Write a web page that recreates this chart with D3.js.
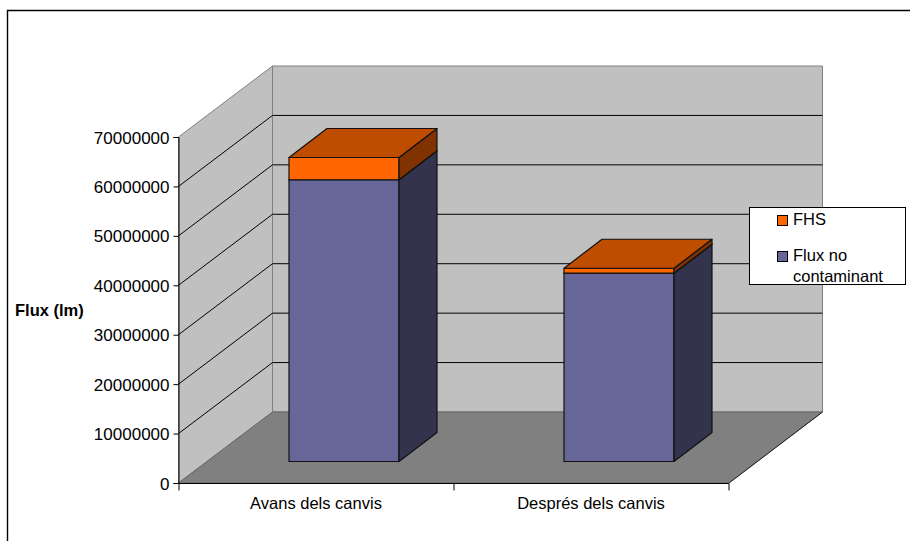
<!DOCTYPE html>
<html>
<head>
<meta charset="utf-8">
<script src="https://cdn.jsdelivr.net/npm/d3@7"></script>
<style>
html, body { margin: 0; padding: 0; background: #fff; }
svg { display: block; }
text { font-family: "Liberation Sans", Arial, sans-serif; fill: #000; }
</style>
</head>
<body>
<div id="chart"></div>
<script>
var categories = ["Avans dels canvis", "Després dels canvis"];
var fluxNoContaminant = [57000000, 38100000];
var fhs = [4500000, 1000000];
var yTicks = [0, 10000000, 20000000, 30000000, 40000000, 50000000, 60000000, 70000000];
var legendNames = ["FHS", "Flux no contaminant"];

var width = 910, height = 541;
var x0 = 178.5, x1 = 728.5;   // front of the floor
var y0 = 483, y1 = 137;       // front of the wall
var dx = 94, dy = -71;        // depth of the box
var barDx = 38, barDy = -29;  // depth of a bar
var barLift = -21.5;          // bars stand a bit behind the front edge
var barShift = 28;            // and to the right of the tick centre

var svg = d3.select("#chart").append("svg")
    .attr("width", width)
    .attr("height", height);

var xScale = d3.scaleBand().domain(categories).range([x0, x1]).paddingInner(0).paddingOuter(0);
var yScale = d3.scaleLinear().domain([0, 70000000]).range([y0, y1]);
var barW = 110;

function poly(points, fill, stroke, sw) {
  return svg.append("polygon")
    .attr("points", points.map(function(p) { return p.join(","); }).join(" "))
    .attr("fill", fill)
    .attr("stroke", stroke)
    .attr("stroke-width", sw)
    .attr("stroke-linejoin", "round");
}

// outer frame, only top and left are in the picture
svg.append("path")
  .attr("d", "M7.5,541V10.5H910")
  .attr("fill", "none").attr("stroke", "#000").attr("stroke-width", 1.4);

// side wall, back wall, floor
poly([[x0, y0], [x0 + dx, y0 + dy], [x0 + dx, y1 + dy], [x0, y1]], "#c0c0c0", "#808080", 1);
poly([[x0 + dx, y0 + dy], [x1 + dx + 0, y0 + dy], [x1 + dx, y1 + dy], [x0 + dx, y1 + dy]], "#c0c0c0", "#808080", 1);
poly([[x0, y0], [x1, y0], [x1 + dx, y0 + dy], [x0 + dx, y0 + dy]], "#808080", "#666", 1);

// gridlines
yTicks.slice(1, -1).forEach(function(t) {
  var y = yScale(t);
  svg.append("path")
    .attr("d", d3.line()([[x0, y], [x0 + dx, y + dy], [x1 + dx, y + dy]]))
    .attr("fill", "none").attr("stroke", "#000").attr("stroke-width", 1);
});

// floor front and right edges
svg.append("path")
  .attr("d", d3.line()([[x0, y0 + 0.5], [x1, y0 + 0.5], [x1 + dx, y0 + dy]]))
  .attr("fill", "none").attr("stroke", "#222").attr("stroke-width", 1);

// axes
var yAxis = d3.axisLeft(yScale).tickValues(yTicks).tickFormat(d3.format("d")).tickSize(5).tickPadding(4);
var gy = svg.append("g").attr("transform", "translate(" + x0 + ",0)").call(yAxis);
gy.selectAll("text").style("font-size", "17px").attr("dy", "0.36em");

var xAxis = d3.axisBottom(d3.scaleLinear().domain([0, 2]).range([x0, x1])).tickValues([0, 1, 2]).tickFormat("").tickSize(7);
var gx = svg.append("g").attr("transform", "translate(0," + (y0 + 0.5) + ")").call(xAxis);
gx.select(".domain").attr("d", "M" + x0 + ",0H" + x1);
gy.selectAll("path,line").attr("stroke", "#000");
gx.selectAll("path,line").attr("stroke", "#000");

svg.selectAll(".cat").data(categories).enter().append("text")
  .attr("class", "cat")
  .attr("x", function(d) { return xScale(d) + xScale.bandwidth() / 2; })
  .attr("y", 509)
  .attr("text-anchor", "middle")
  .style("font-size", "16.5px")
  .text(function(d) { return d; });

svg.append("text")
  .attr("x", 15).attr("y", 316)
  .style("font-size", "16.5px").style("font-weight", "bold")
  .text("Flux (lm)");

// one 3d block
function block(xl, vFrom, vTo, front, top, side) {
  var b = yScale(vFrom) + barLift, t = yScale(vTo) + barLift, xr = xl + barW;
  var line = "#111";
  poly([[xl, b], [xr, b], [xr, t], [xl, t]], front, line, 1.2);
  poly([[xr, b], [xr + barDx, b + barDy], [xr + barDx, t + barDy], [xr, t]], side, line, 1.2);
  poly([[xl, t], [xr, t], [xr + barDx, t + barDy], [xl + barDx, t + barDy]], top, line, 1.2);
}

categories.forEach(function(c, i) {
  var xl = xScale(c) + (xScale.bandwidth() - barW) / 2 + barShift;
  block(xl, 0, fluxNoContaminant[i], "#666699", "#4d4d73", "#33334d");
  block(xl, fluxNoContaminant[i], fluxNoContaminant[i] + fhs[i], "#ff6600", "#bf4d00", "#803300");
});

// legend
svg.append("rect")
  .attr("x", 749.5).attr("y", 207.5)
  .attr("width", 156).attr("height", 77)
  .attr("fill", "#fff").attr("stroke", "#000");

var legendColors = ["#ff6600", "#666699"];
var legendY = [220, 256];
legendNames.forEach(function(n, i) {
  svg.append("rect")
    .attr("x", 777.5).attr("y", legendY[i] - 4.5)
    .attr("width", 10).attr("height", 10)
    .attr("fill", legendColors[i]).attr("stroke", "#000");
});
svg.append("text").attr("x", 793).attr("y", 225).style("font-size", "16.5px").text(legendNames[0]);
var parts = legendNames[1].split(" ");
svg.append("text").attr("x", 793).attr("y", 261).style("font-size", "16.5px").text(parts[0] + " " + parts[1]);
svg.append("text").attr("x", 793).attr("y", 282).style("font-size", "16.5px").text(parts[2]);
</script>
</body>
</html>
